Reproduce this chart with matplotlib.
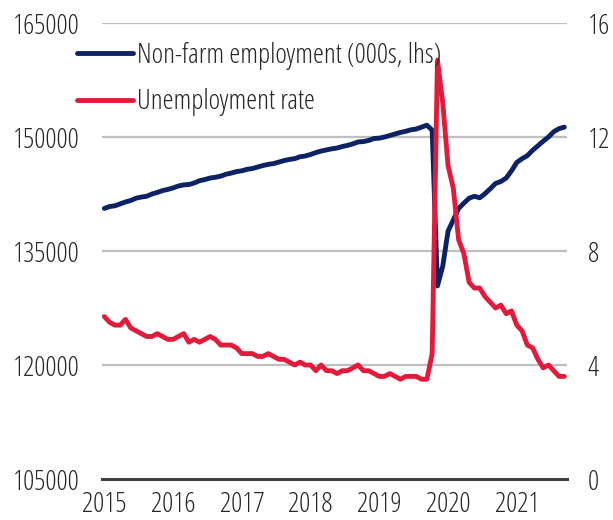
import matplotlib
matplotlib.use("Agg")
import matplotlib.pyplot as plt
from matplotlib import font_manager
import numpy as np

# Monthly data, Jan 2015 - Apr 2022
nonfarm = [
    # 2015
    140600, 140850, 140950, 141200, 141450, 141650, 141950, 142100, 142200, 142500, 142700, 142950,
    # 2016
    143100, 143300, 143550, 143700, 143750, 143950, 144250, 144400, 144600, 144700, 144850, 145100,
    # 2017
    145250, 145450, 145550, 145750, 145850, 146050, 146250, 146400, 146500, 146700, 146900, 147050,
    # 2018
    147150, 147400, 147500, 147700, 147950, 148150, 148300, 148450, 148550, 148750, 148900, 149100,
    # 2019
    149350, 149400, 149550, 149800, 149850, 150000, 150200, 150400, 150600, 150750, 150950, 151050,
    # 2020
    151300, 151550, 150900, 130400, 133000, 137600, 139100, 140600, 141300, 141950, 142200, 142000,
    # 2021
    142550, 143200, 143900, 144150, 144600, 145550, 146650, 147150, 147550, 148250, 148850, 149450,
    # 2022
    150000, 150700, 151100, 151300,
]

unemployment = [
    # 2015
    5.7, 5.5, 5.4, 5.4, 5.6, 5.3, 5.2, 5.1, 5.0, 5.0, 5.1, 5.0,
    # 2016
    4.9, 4.9, 5.0, 5.1, 4.8, 4.9, 4.8, 4.9, 5.0, 4.9, 4.7, 4.7,
    # 2017
    4.7, 4.6, 4.4, 4.4, 4.4, 4.3, 4.3, 4.4, 4.3, 4.2, 4.2, 4.1,
    # 2018
    4.0, 4.1, 4.0, 4.0, 3.8, 4.0, 3.8, 3.8, 3.7, 3.8, 3.8, 3.9,
    # 2019
    4.0, 3.8, 3.8, 3.7, 3.6, 3.6, 3.7, 3.6, 3.5, 3.6, 3.6, 3.6,
    # 2020
    3.5, 3.5, 4.4, 14.7, 13.2, 11.0, 10.2, 8.4, 7.9, 6.9, 6.7, 6.7,
    # 2021
    6.4, 6.2, 6.0, 6.1, 5.8, 5.9, 5.4, 5.2, 4.7, 4.6, 4.2, 3.9,
    # 2022
    4.0, 3.8, 3.6, 3.6,
]

year_labels = ["2015", "2016", "2017", "2018", "2019", "2020", "2021"]
label_step = 13  # one axis label every 13 months

left_ticks = [105000, 120000, 135000, 150000, 165000]
right_ticks = [0, 4, 8, 12, 16]

series_names = ["Non-farm employment (000s, lhs)", "Unemployment rate"]

NAVY = "#0b2265"
RED = "#e31b3b"
GRID = "#bfbfbf"
TEXT = "#262626"


def _w(f):
    w = f.weight
    if isinstance(w, str):
        return {"light": 300, "normal": 400, "regular": 400, "book": 400,
                "medium": 500, "bold": 700}.get(w, 400)
    return int(w)


def pick_font():
    """Prefer a light, narrow sans face."""
    entries = [f for f in font_manager.fontManager.ttflist if f.style == "normal"]
    cond = ("condensed", "semi-condensed", "extra-condensed")
    prefs = [
        lambda f: f.name.startswith("Open Sans") and f.stretch in cond and _w(f) <= 300,
        lambda f: f.name.startswith("Noto Sans") and "CJK" not in f.name and f.stretch == "condensed" and _w(f) == 300,
        lambda f: f.name == "Liberation Sans Narrow" and _w(f) == 400,
        lambda f: f.name.startswith("Noto Sans") and "CJK" not in f.name and f.stretch == "condensed" and _w(f) == 400,
        lambda f: f.name.startswith("DejaVu Sans") and f.stretch in cond and _w(f) == 400,
        lambda f: f.name.startswith("Roboto") and "Condensed" in f.name and _w(f) <= 400,
    ]
    for test in prefs:
        for f in entries:
            try:
                if test(f):
                    return font_manager.FontProperties(fname=f.fname), 20
            except Exception:
                pass
    return font_manager.FontProperties(family="Lato", weight="light"), 16


FP, FS = pick_font()
FP.set_size(FS)

fig = plt.figure(figsize=(6.13, 5.2), dpi=100)
ax = fig.add_axes([101.7 / 613, 1 - 479 / 520, (567 - 101.7) / 613, (479 - 23) / 520])
ax2 = ax.twinx()

x = np.arange(len(nonfarm))

l1, = ax.plot(x, nonfarm, color=NAVY, lw=3.5, solid_joinstyle="round",
              solid_capstyle="round", zorder=3)
l2, = ax2.plot(x, unemployment, color=RED, lw=3.5, solid_joinstyle="round",
               solid_capstyle="round", zorder=3)

ax.set_xlim(-0.5, len(nonfarm) - 0.5)
ax.set_ylim(left_ticks[0], left_ticks[-1])
ax2.set_ylim(right_ticks[0], right_ticks[-1])

ax.set_yticks(left_ticks)
ax.set_yticklabels([str(v) for v in left_ticks])
ax2.set_yticks(right_ticks)
ax2.set_yticklabels([str(v) for v in right_ticks])

ax.set_xticks(np.arange(len(year_labels)) * label_step)
ax.set_xticklabels(year_labels)

for a in (ax, ax2):
    for s in a.spines.values():
        s.set_visible(False)
    a.tick_params(length=0, colors=TEXT)
    a.set_facecolor("none")
    for lab in a.get_xticklabels() + a.get_yticklabels():
        lab.set_fontproperties(FP)

ax.tick_params(axis="y", pad=16)
ax2.tick_params(axis="y", pad=15)
ax.tick_params(axis="x", pad=9)

# horizontal gridlines; the zero line is darker
for v in left_ticks:
    if v == left_ticks[0]:
        ax.axhline(v, color="#404040", lw=2.2, zorder=2, clip_on=False)
    else:
        ax.axhline(v, color=GRID, lw=1.6, zorder=1)

leg = fig.legend([l1, l2], series_names, loc="upper left",
                 bbox_to_anchor=(77 / 613, 1 - 42 / 520), frameon=False,
                 prop=FP, handlelength=2.0, handletextpad=0.15,
                 labelspacing=0.66, borderpad=0, borderaxespad=0)
for t in leg.get_texts():
    t.set_color(TEXT)

fig.savefig("out.png", dpi=100)
